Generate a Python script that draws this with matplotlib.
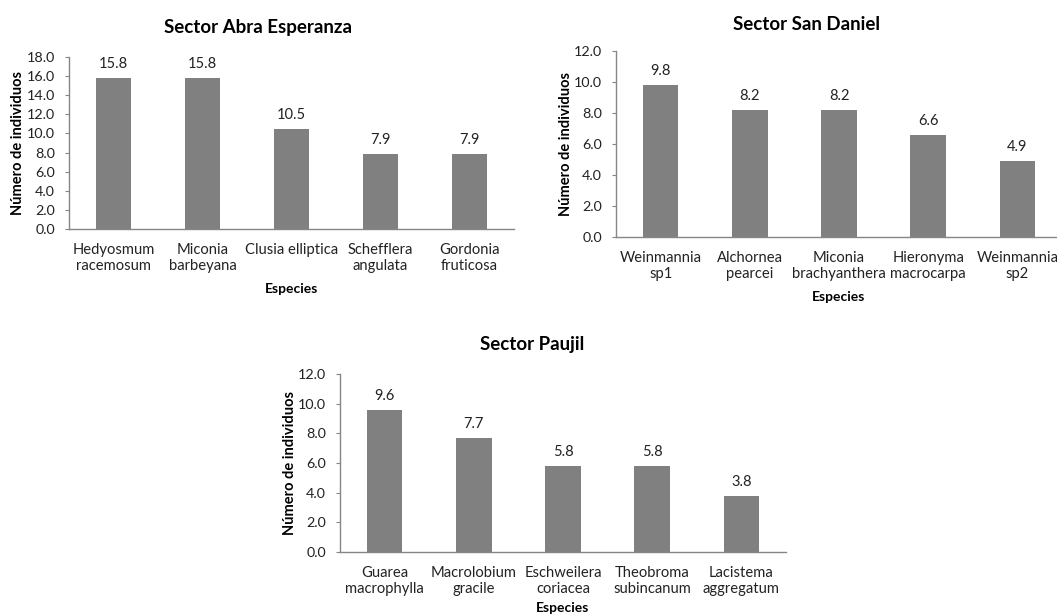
import matplotlib.pyplot as plt
import numpy as np

plt.rcParams['font.family'] = ['Lato', 'DejaVu Sans']

# datos por sector
abra_especies = ['Hedyosmum\nracemosum', 'Miconia\nbarbeyana', 'Clusia elliptica',
                 'Schefflera\nangulata', 'Gordonia\nfruticosa']
abra_valores = [15.8, 15.8, 10.5, 7.9, 7.9]

daniel_especies = ['Weinmannia\nsp1', 'Alchornea\npearcei', 'Miconia\nbrachyanthera',
                   'Hieronyma\nmacrocarpa', 'Weinmannia\nsp2']
daniel_valores = [9.8, 8.2, 8.2, 6.6, 4.9]

paujil_especies = ['Guarea\nmacrophylla', 'Macrolobium\ngracile', 'Eschweilera\ncoriacea',
                   'Theobroma\nsubincanum', 'Lacistema\naggregatum']
paujil_valores = [9.6, 7.7, 5.8, 5.8, 3.8]

W, H = 1057, 615
fig = plt.figure(figsize=(W / 100, H / 100), dpi=100)


def panel(px_left, px_top, px_right, px_bottom, titulo, especies, valores, ymax,
          title_cx, title_pad, xl_pad):
    ax = fig.add_axes([px_left / W, 1 - px_bottom / H,
                       (px_right - px_left) / W, (px_bottom - px_top) / H])
    x = np.arange(len(valores))
    ax.bar(x, valores, width=0.4, color='#808080')
    for xi, v in zip(x, valores):
        ax.annotate('%.1f' % v, (xi, v), xytext=(0, 5), textcoords='offset points',
                    ha='center', va='bottom', fontsize=10.5, color='#222222')
    ax.set_xlim(-0.5, len(valores) - 0.5)
    ax.set_ylim(0, ymax)
    ticks = np.arange(0, ymax + 0.01, 2.0)
    ax.set_yticks(ticks)
    ax.set_yticklabels(['%.1f' % t for t in ticks])
    ax.set_xticks(x)
    ax.set_xticklabels(especies, fontsize=10.6, color='#222222', linespacing=1.2)
    ax.tick_params(axis='x', length=0, pad=10)
    ax.tick_params(axis='y', length=3, color='#868686', labelsize=10.3, labelcolor='#222222', pad=7)
    for s in ['top', 'right']:
        ax.spines[s].set_visible(False)
    for s in ['left', 'bottom']:
        ax.spines[s].set_color('#868686')
        ax.spines[s].set_linewidth(1.0)
    ax.set_ylabel('Número de individuos', fontsize=10.5, fontweight='bold', labelpad=1)
    ax.set_xlabel('Especies', fontsize=10, fontweight='bold', labelpad=xl_pad)
    # el titulo va centrado en el area del grafico, no sobre los ejes
    tx = (title_cx - px_left) / (px_right - px_left)
    ax.set_title(titulo, fontsize=13.5, fontweight='bold', pad=title_pad, x=tx)
    return ax


panel(69, 57, 514, 229, 'Sector Abra Esperanza', abra_especies, abra_valores, 18.0, 258, 17, 7)
panel(616, 51, 1062, 237, 'Sector San Daniel', daniel_especies, daniel_valores, 12.0, 807, 15, 7)
panel(340, 374, 786, 552, 'Sector Paujil', paujil_especies, paujil_valores, 12.0, 532, 17, 4)

fig.savefig('out.png', dpi=100)
